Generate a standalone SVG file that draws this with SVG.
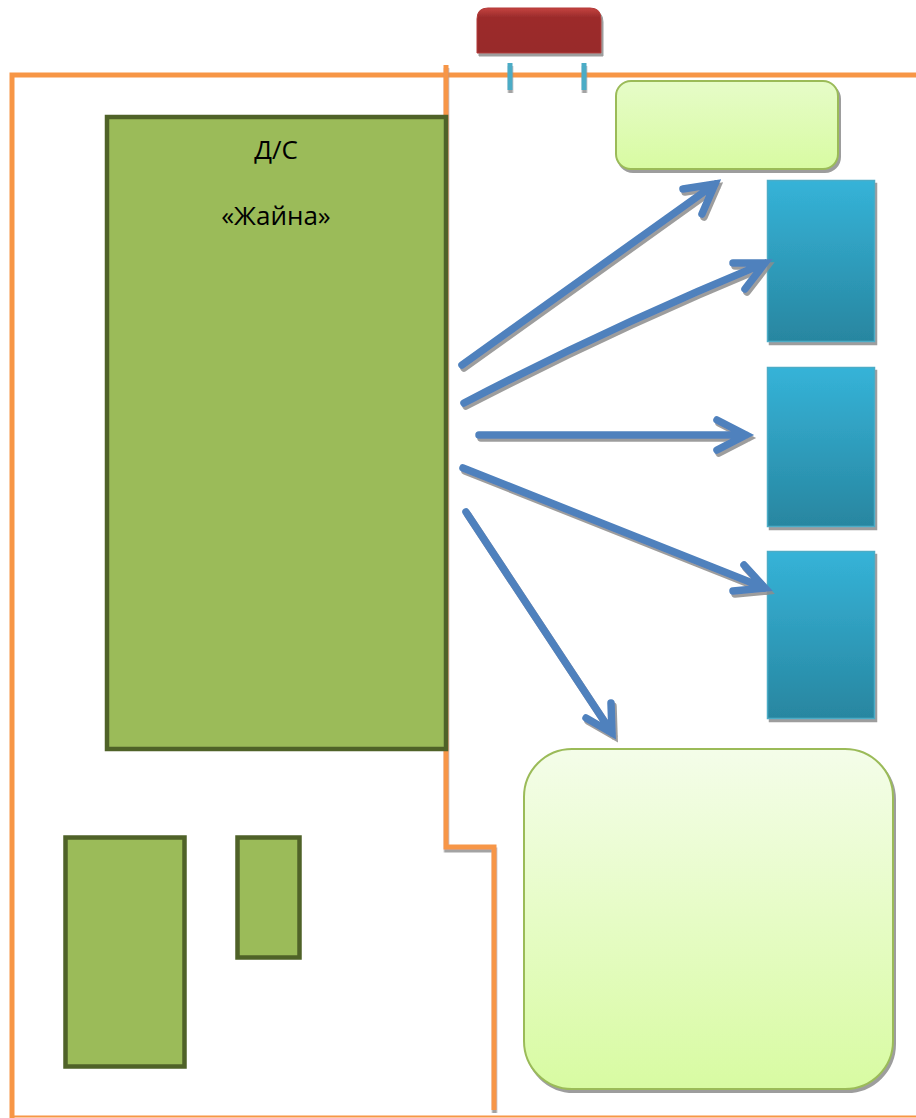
<svg xmlns="http://www.w3.org/2000/svg" width="916" height="1118" viewBox="0 0 916 1118">
<style>
.orange{fill:none;stroke:#f79646;stroke-width:5}
.green{fill:#9bbb59;stroke:#4f6228;stroke-width:4.5}
.blue{stroke:#4bacc6;stroke-width:1.5;fill:url(#gBlue)}
.lime{stroke:#9bbb59;stroke-width:2}
.arrow{fill:none;stroke:#4f81bd;stroke-width:7.5;stroke-linecap:round;stroke-linejoin:miter}
.tick{fill:#4bacc6}
.label{font-family:"Open Sans","Noto Sans","DejaVu Sans",sans-serif;font-size:26px;fill:#000;text-anchor:middle}
</style>
<defs>
<filter id="sh" x="-10%" y="-10%" width="130%" height="130%">
<feDropShadow dx="2" dy="3" stdDeviation="0.6" flood-color="#8c8c8c" flood-opacity="0.85"/>
</filter>
<filter id="sh2" x="-10%" y="-10%" width="130%" height="130%">
<feDropShadow dx="0.5" dy="3" stdDeviation="0.5" flood-color="#8c8c8c" flood-opacity="0.8"/>
</filter>
<linearGradient id="gBlue" x1="0" y1="0" x2="0" y2="1">
<stop offset="0" stop-color="#35b3d8"/>
<stop offset="1" stop-color="#2886a0"/>
</linearGradient>
<linearGradient id="gLime" x1="0" y1="0" x2="0" y2="1">
<stop offset="0" stop-color="#e6fcc8"/>
<stop offset="1" stop-color="#d8fba2"/>
</linearGradient>
<linearGradient id="gLime2" x1="0" y1="0" x2="0" y2="1">
<stop offset="0" stop-color="#f4fde9"/>
<stop offset="1" stop-color="#d8fba2"/>
</linearGradient>
<linearGradient id="gRed" x1="0" y1="0" x2="0" y2="1">
<stop offset="0" stop-color="#c4423f"/>
<stop offset="0.2" stop-color="#9c2c2c"/>
<stop offset="1" stop-color="#982c2c"/>
</linearGradient>
</defs>

<g id="boundary">
<path class="orange" d="M12,1118 V75 H916"/>
<line x1="10" y1="1116.5" x2="916" y2="1116.5" stroke="#f79646" stroke-width="2"/>
<path class="orange" d="M446,65 V847 H494 V1110" filter="url(#sh2)"/>
</g>

<g id="gate" filter="url(#sh)">
<path d="M477,53 V19 Q477,8 488,8 H590 Q601,8 601,19 V53 Z" fill="url(#gRed)" stroke="#b23a38" stroke-width="1"/>
</g>
<g id="tick1" filter="url(#sh2)"><rect class="tick" x="507.5" y="63" width="5" height="27"/></g>
<g id="tick2" filter="url(#sh2)"><rect class="tick" x="581.5" y="63" width="5" height="27"/></g>

<g id="kindergarten">
<rect class="green" x="107" y="117" width="339" height="632"/>
<text class="label" x="276" y="159">Д/С</text>
<text class="label" x="276" y="225">«Жайна»</text>
</g>

<g id="block-small-1"><rect class="green" x="65.5" y="837.5" width="119" height="229"/></g>
<g id="block-small-2"><rect class="green" x="237.5" y="837.5" width="62" height="120"/></g>

<g id="top-area" filter="url(#sh)">
<rect class="lime" x="616" y="81" width="222" height="88" rx="15" ry="15" fill="url(#gLime)"/>
</g>

<g id="blue-1" filter="url(#sh)"><rect class="blue" x="767.5" y="180.5" width="107" height="161"/></g>
<g id="blue-2" filter="url(#sh)"><rect class="blue" x="767.5" y="367.5" width="107" height="159"/></g>
<g id="blue-3" filter="url(#sh)"><rect class="blue" x="767.5" y="551.5" width="107" height="167"/></g>

<g id="bottom-area" filter="url(#sh)">
<rect class="lime" x="524" y="749" width="369" height="340" rx="48" ry="48" fill="url(#gLime2)"/>
</g>

<g id="connectors" filter="url(#sh)">
<path class="arrow" d="M462,365 L715,184 M683,189 L715,184 L702,214"/>
<path class="arrow" d="M464,403 Q610,327 765,263 M733,263 L765,263 L745,289"/>
<path class="arrow" d="M479,435 H746 M717,420 L746,435 L717,450"/>
<path class="arrow" d="M463,468 L765,588 M733,591 L765,588 L744,565"/>
<path class="arrow" d="M466,512 L612,733 M611,703 L612,733 L586,718"/>
</g>
</svg>
